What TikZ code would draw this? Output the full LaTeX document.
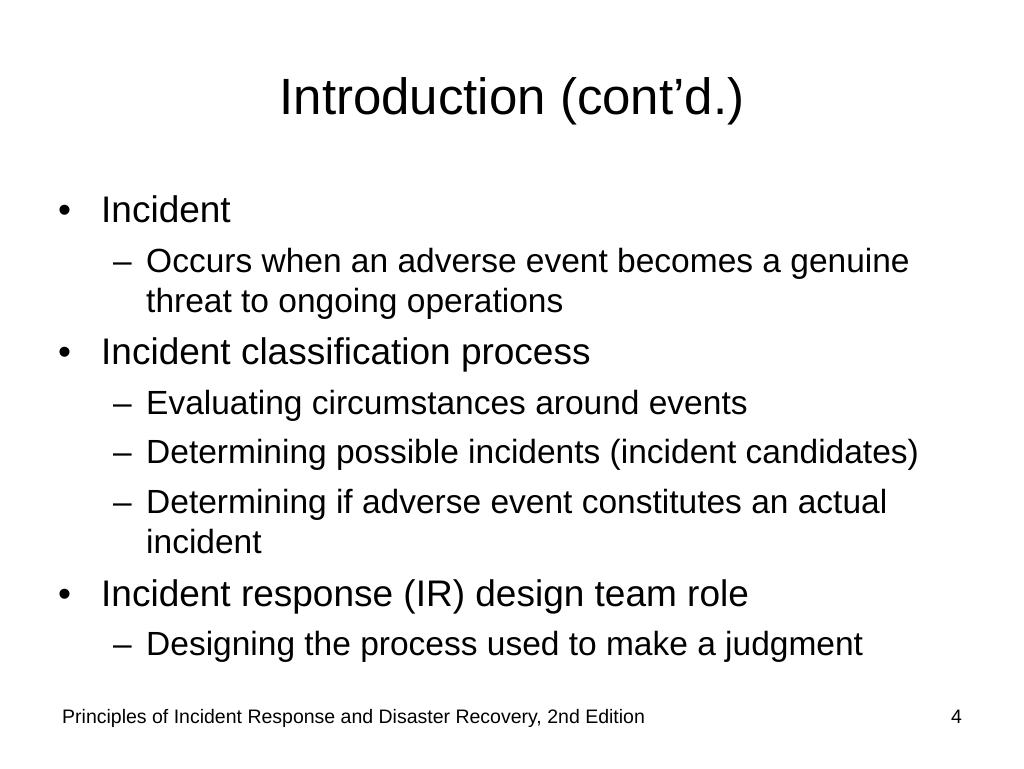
\documentclass[tikz,border=0pt]{standalone}
\usepackage{fontspec}
\setmainfont{Liberation Sans}
\begin{document}
\begin{tikzpicture}[x=1pt,y=-1pt,
 t/.style={anchor=base west,inner sep=0pt},
 lone/.style={t,font=\fontsize{37}{40}\selectfont},
 ltwo/.style={t,font=\fontsize{33.5}{36}\selectfont}]
\useasboundingbox (0,0) rectangle (1024,768);
\node[anchor=base,inner sep=0pt,font=\fontsize{51}{56}\selectfont] (title) at (512,114) {Introduction (cont’d.)};
\node[lone] (b1) at (58,222) {•}; \node[lone] (t1) at (101,222) {Incident};
\node[ltwo] (d1) at (113,272) {–}; \node[ltwo] (s1) at (146,272) {Occurs when an adverse event becomes a genuine};
\node[ltwo] (s1b) at (146,312) {threat to ongoing operations};
\node[lone] (b2) at (58,364) {•}; \node[lone] (t2) at (101,364) {Incident classification process};
\node[ltwo] (d2) at (113,414) {–}; \node[ltwo] (s2) at (146,414) {Evaluating circumstances around events};
\node[ltwo] (d3) at (113,463) {–}; \node[ltwo] (s3) at (146,463) {Determining possible incidents (incident candidates)};
\node[ltwo] (d4) at (113,513) {–}; \node[ltwo] (s4) at (146,513) {Determining if adverse event constitutes an actual};
\node[ltwo] (s4b) at (146,553) {incident};
\node[lone] (b3) at (58,606) {•}; \node[lone] (t3) at (101,606) {Incident response (IR) design team role};
\node[ltwo] (d5) at (113,655) {–}; \node[ltwo] (s5) at (146,655) {Designing the process used to make a judgment};
\node[t,font=\fontsize{19.5}{22}\selectfont] (foot) at (62,723) {Principles of Incident Response and Disaster Recovery, 2nd Edition};
\node[t,font=\fontsize{19.5}{22}\selectfont] (pg) at (951,723) {4};
\end{tikzpicture}
\end{document}
